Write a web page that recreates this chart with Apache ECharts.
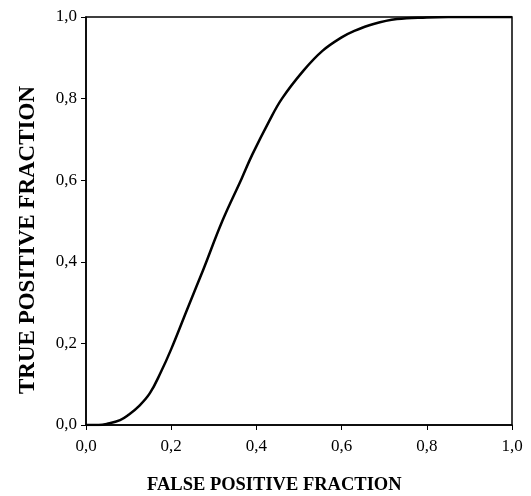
<!DOCTYPE html>
<html>
<head>
<meta charset="utf-8">
<script src="https://cdn.jsdelivr.net/npm/echarts@6/dist/echarts.min.js"></script>
<style>html,body{margin:0;padding:0;background:#fff}#c{width:531px;height:496px}</style>
</head>
<body>
<div id="c"></div>
<script>
var fpf = [0, 0.03, 0.05, 0.08, 0.1, 0.125, 0.15, 0.175, 0.2, 0.24, 0.275, 0.32, 0.365, 0.39, 0.43, 0.46, 0.51, 0.555, 0.6, 0.63, 0.675, 0.73, 0.8, 0.85, 0.9, 1.0];
var tpf = [0, 0, 0.003, 0.012, 0.025, 0.047, 0.078, 0.128, 0.186, 0.29, 0.38, 0.5, 0.603, 0.662, 0.745, 0.8, 0.868, 0.917, 0.95, 0.966, 0.983, 0.995, 0.999, 1, 1, 1];
var xTitle = 'FALSE POSITIVE FRACTION';
var yTitle = 'TRUE POSITIVE FRACTION';
var fmt = function (v) { return v.toFixed(1).replace('.', ','); };
var pts = fpf.map(function (x, i) { return [x, tpf[i]]; });
var chart = echarts.init(document.getElementById('c'));
var axisCommon = {
  type: 'value', min: 0, max: 1, interval: 0.2,
  axisLine: { show: true, lineStyle: { color: '#000', width: 1.5 } },
  axisTick: { show: true, length: 5, lineStyle: { color: '#000', width: 1 } },
  splitLine: { show: false },
  axisLabel: { color: '#000', fontFamily: 'Liberation Serif', fontSize: 17, formatter: fmt }
};
chart.setOption({
  animation: false,
  grid: { left: 86, right: 19, top: 17, bottom: 71, show: true, borderColor: '#000', borderWidth: 1.5, outerBoundsMode: 'none', containLabel: false },
  xAxis: Object.assign({}, axisCommon, {
    axisLabel: Object.assign({}, axisCommon.axisLabel, { margin: 13 })
  }),
  yAxis: Object.assign({}, axisCommon, {
    axisLabel: Object.assign({}, axisCommon.axisLabel, { margin: 9 })
  }),
  graphic: [
    { type: 'text', left: 274 - 127, top: 476,
      style: { text: xTitle, fill: '#000', font: 'bold 18.5px "Liberation Serif"' } },
    { type: 'text', x: 28, y: 240, rotation: Math.PI / 2,
      style: { text: yTitle, fill: '#000', font: 'bold 23px "Liberation Serif"', align: 'center', verticalAlign: 'middle' } }
  ],
  series: [{
    type: 'line', data: pts, smooth: 0.4, showSymbol: false,
    lineStyle: { color: '#000', width: 2.5 }
  }]
});
</script>
</body>
</html>
